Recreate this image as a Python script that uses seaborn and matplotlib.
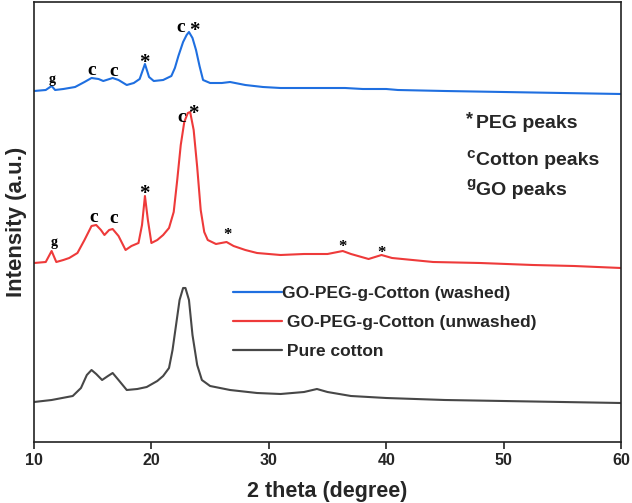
import matplotlib
matplotlib.use("Agg")
import matplotlib.pyplot as plt
import seaborn as sns
import pandas as pd
from matplotlib.lines import Line2D

# ---------------- data (offset intensities, a.u.) ----------------
washed_x = [10.0, 11.0, 11.5, 11.8, 12.5, 13.5, 14.3, 14.9, 15.5, 15.9, 16.7, 17.2, 17.9, 18.5,
            19.0, 19.45, 19.8, 20.2, 21.0, 21.7, 22.0, 22.3, 22.7, 23.0, 23.2, 23.5, 23.8, 24.1,
            24.4, 25.0, 26.0, 26.7, 28.0, 29.5, 31.0, 33.0, 35.0, 36.5, 38.0, 40.0, 41.0, 45.0,
            50.0, 55.0, 60.0]
washed_y = [351, 352, 356, 352, 353, 355, 360, 364, 363, 361, 364, 362, 357, 359,
            363, 378, 365, 361, 362, 366, 374, 386, 400, 407, 410, 404, 392, 376,
            362, 359, 359, 360, 357, 355, 354, 354, 354, 354, 353, 353, 352, 351,
            350, 349, 348]

unwashed_x = [10.0, 11.0, 11.5, 11.9, 12.5, 13.0, 13.7, 14.3, 14.9, 15.3, 15.7, 16.0, 16.4, 16.7,
              17.2, 17.8, 18.3, 18.9, 19.2, 19.45, 19.7, 20.0, 20.5, 21.0, 21.5, 21.9, 22.2, 22.5,
              22.8, 23.1, 23.3, 23.6, 23.9, 24.2, 24.5, 24.8, 25.5, 26.4, 27.0, 28.0, 29.0, 31.0,
              33.0, 35.0, 36.3, 37.0, 38.5, 39.6, 40.5, 44.0, 48.0, 52.5, 56.0, 60.0]
unwashed_y = [179, 180, 191, 180, 182, 184, 189, 202, 216, 217, 212, 207, 212, 213,
              206, 192, 196, 199, 217, 246, 222, 199, 202, 207, 214, 230, 262, 297,
              320, 329, 330, 312, 275, 232, 210, 202, 198, 200, 196, 192, 189, 187,
              188, 188, 191, 188, 183, 187, 184, 180, 179, 177, 176, 174]

pure_x = [10.0, 11.5, 13.3, 14.0, 14.5, 14.9, 15.3, 15.8, 16.3, 16.7, 17.2, 17.9, 18.8, 19.6,
          20.5, 21.0, 21.5, 21.8, 22.1, 22.4, 22.7, 22.9, 23.2, 23.5, 23.9, 24.3, 25.0, 26.7,
          29.0, 31.0, 33.0, 34.1, 35.0, 37.0, 40.0, 45.0, 50.0, 55.0, 60.0]
pure_y = [40, 42, 46, 54, 67, 72, 68, 62, 66, 69, 62, 52, 53, 55,
          61, 66, 74, 92, 117, 142, 154, 154, 142, 107, 77, 62, 56, 52,
          49, 48, 50, 53, 50, 46, 44, 42, 41, 40, 39]

series_names = ["GO-PEG-g-Cotton (washed)", " GO-PEG-g-Cotton (unwashed)", " Pure cotton"]
series_colors = ["#1f6fe0", "#ee3a3a", "#474747"]

# peak marker labels: (text, 2theta, intensity, size)
peak_labels = [
    ("g", 11.55, 359, 10), ("c", 14.95, 367, 14), ("c", 16.75, 366, 14),
    ("*", 19.37, 374, 15), ("c", 22.5, 410, 14), ("*", 23.7, 406, 15),
    ("g", 11.7, 196, 10), ("c", 15.1, 220, 14), ("c", 16.8, 219, 14),
    ("*", 19.37, 243, 15), ("c", 22.6, 320, 14), ("*", 23.55, 323, 15),
    ("*", 26.5, 203, 12), ("*", 36.3, 191, 12), ("*", 39.6, 185, 12),
]

key_sup = ["*", "c", "g"]
key_text = ["PEG peaks", "Cotton peaks", "GO peaks"]

xticks = [10, 20, 30, 40, 50, 60]

# ---------------- plotting ----------------
df = pd.concat([
    pd.DataFrame({"theta": washed_x, "I": washed_y, "sample": series_names[0]}),
    pd.DataFrame({"theta": unwashed_x, "I": unwashed_y, "sample": series_names[1]}),
    pd.DataFrame({"theta": pure_x, "I": pure_y, "sample": series_names[2]}),
])

sns.set_style("white")
plt.rcParams["font.family"] = ["Liberation Sans", "DejaVu Sans"]
plt.rcParams["font.weight"] = "bold"

fig = plt.figure(figsize=(6.32, 5.03), dpi=100)
ax = fig.add_axes([34 / 632, 1 - 442 / 503, 587 / 632, 440 / 503])

sns.lineplot(data=df, x="theta", y="I", hue="sample", hue_order=series_names,
             palette=dict(zip(series_names, series_colors)), sort=False,
             estimator=None, linewidth=1.5, ax=ax, legend=False)

ax.set_xlim(10, 60)
ax.set_ylim(0, 440)
ax.set_xticks(xticks)
ax.set_xticklabels([str(t) for t in xticks], fontsize=11.5, fontweight="bold")
ax.set_yticks([])
ax.tick_params(axis="x", direction="out", length=5, width=1.2, color="#222222", pad=3,
               bottom=True, top=False)
for sp in ax.spines.values():
    sp.set_color("#222222")
    sp.set_linewidth(1.2)

ax.set_xlabel("2 theta (degree)", fontsize=15.5, fontweight="bold", labelpad=9)
ax.set_ylabel("Intensity (a.u.)", fontsize=16, fontweight="bold", labelpad=5)

# legend
handles = [Line2D([0], [0], color=c, lw=1.6) for c in series_colors]
leg = ax.legend(handles, series_names, loc="upper left",
                bbox_to_anchor=(233 / 632, 1 - 286 / 503), bbox_transform=fig.transFigure,
                frameon=False, borderpad=0, borderaxespad=0, handlelength=2.8,
                handletextpad=0.05, labelspacing=0.8,
                prop={"family": "Liberation Sans", "weight": "bold", "size": 12.5})

# peak labels
for t, x, y, s in peak_labels:
    ax.text(x, y, t, ha="center", va="baseline", fontsize=s, fontweight="bold",
            family="Liberation Serif", color="black")

# key text
key_pos_y = [(442 - 128) / 440, (442 - 165) / 440, (442 - 195) / 440]
sup_pos_y = [(442 - 124) / 440, (442 - 158) / 440, (442 - 187) / 440]
sup_sizes = [13, 11, 11]
for sup, txt, yb, ys, ss in zip(key_sup, key_text, key_pos_y, sup_pos_y, sup_sizes):
    ax.text((466 - 34) / 587, ys, sup, transform=ax.transAxes, fontsize=ss,
            fontweight="bold", ha="left", va="baseline")
    ax.text((476 - 34) / 587, yb, txt, transform=ax.transAxes, fontsize=14,
            fontweight="bold", ha="left", va="baseline")

fig.savefig("out.png", dpi=100)
